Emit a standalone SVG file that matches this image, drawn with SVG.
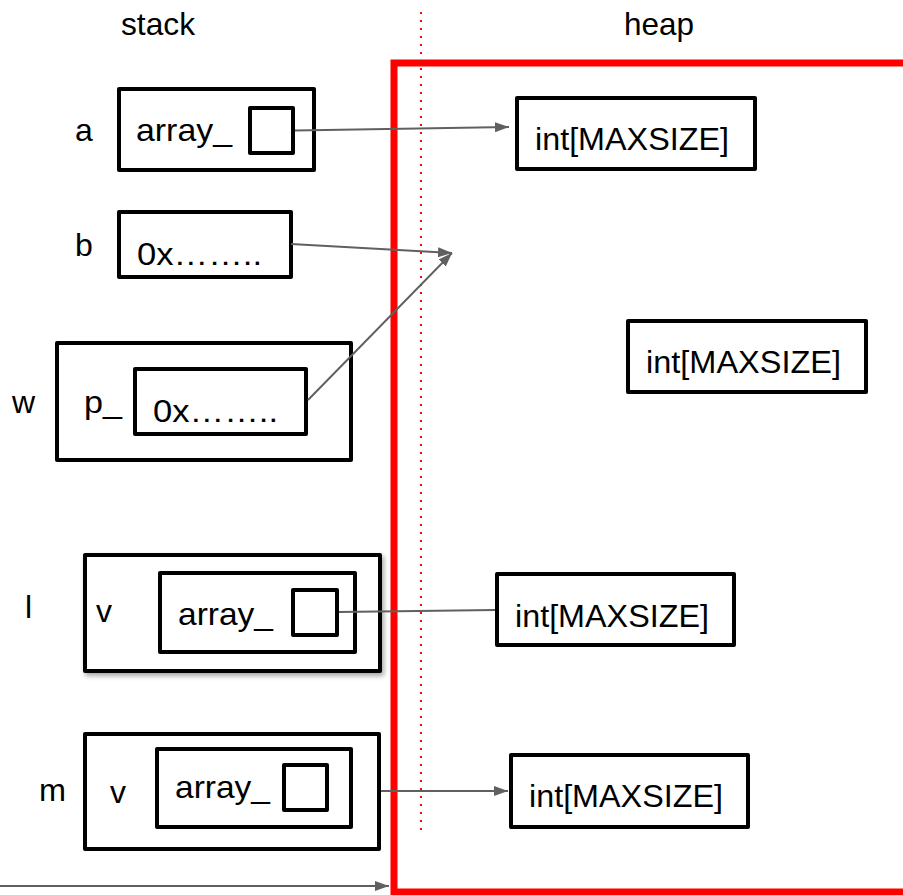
<svg xmlns="http://www.w3.org/2000/svg" width="903" height="895" viewBox="0 0 903 895">
<style>
  .box { fill: #ffffff; stroke: #000000; stroke-width: 4; stroke-linejoin: round; }
  .sq { fill: none; stroke: #000000; stroke-width: 4; stroke-linejoin: round; }
  .t { font-family: "Liberation Sans", Arial, sans-serif; font-size: 32px; fill: #000000; }
  .conn { fill: none; stroke: #606060; stroke-width: 2; }
</style>
<defs>
  <marker id="arr" markerUnits="userSpaceOnUse" markerWidth="14" markerHeight="10" refX="14" refY="5" orient="auto">
    <path d="M0,0 L14,5 L0,10 Z" fill="#606060"/>
  </marker>
  <filter id="shadow" x="-10%" y="-10%" width="125%" height="130%">
    <feDropShadow dx="2" dy="3" stdDeviation="2.5" flood-color="#000000" flood-opacity="0.35"/>
  </filter>
</defs>
<rect width="903" height="895" fill="#ffffff"/>

<text class="t" x="121" y="35" textLength="74" lengthAdjust="spacingAndGlyphs">stack</text>
<text class="t" x="624" y="35" textLength="70" lengthAdjust="spacingAndGlyphs">heap</text>

<g id="heap-region">
  <rect x="394" y="63" width="520" height="829" fill="none" stroke="#ff0000" stroke-width="7"/>
</g>
<line x1="421" y1="12" x2="421" y2="830" stroke="#ff0000" stroke-width="2" stroke-dasharray="2 6"/>

<g id="a">
  <text class="t" x="75" y="141">a</text>
  <rect class="box" x="119" y="89" width="195" height="81"/>
  <text class="t" x="136" y="141" textLength="96" lengthAdjust="spacingAndGlyphs">array_</text>
  <rect class="sq" x="250" y="108" width="43" height="45"/>
</g>

<g id="b">
  <text class="t" x="75" y="256">b</text>
  <rect class="box" x="119" y="212" width="172" height="65"/>
  <text class="t" x="137" y="265" textLength="125" lengthAdjust="spacingAndGlyphs">0x……..</text>
</g>

<g id="w">
  <text class="t" x="12" y="413">w</text>
  <rect class="box" x="57" y="343" width="294" height="117"/>
  <text class="t" x="84" y="413" textLength="38" lengthAdjust="spacingAndGlyphs">p_</text>
  <rect class="box" x="135" y="369" width="171" height="65"/>
  <text class="t" x="153" y="422" textLength="125" lengthAdjust="spacingAndGlyphs">0x……..</text>
</g>

<g id="l">
  <text class="t" x="25" y="618">l</text>
  <rect class="box" x="85" y="555" width="295" height="116" filter="url(#shadow)"/>
  <text class="t" x="96" y="622">v</text>
  <rect class="box" x="160" y="573" width="195" height="79"/>
  <text class="t" x="178" y="625" textLength="95" lengthAdjust="spacingAndGlyphs">array_</text>
  <rect class="sq" x="293" y="590" width="44" height="45"/>
</g>

<g id="m">
  <text class="t" x="39" y="801" textLength="27" lengthAdjust="spacingAndGlyphs">m</text>
  <rect class="box" x="85" y="734" width="294" height="115"/>
  <text class="t" x="110" y="803">v</text>
  <rect class="box" x="157" y="749" width="194" height="78"/>
  <text class="t" x="175" y="798" textLength="95" lengthAdjust="spacingAndGlyphs">array_</text>
  <rect class="sq" x="284" y="765" width="43" height="45"/>
</g>

<g id="heap1">
  <rect class="box" x="517" y="98" width="238" height="71"/>
  <text class="t" x="535" y="150" textLength="194" lengthAdjust="spacingAndGlyphs">int[MAXSIZE]</text>
</g>
<g id="heap2">
  <rect class="box" x="628" y="321" width="238" height="71"/>
  <text class="t" x="646" y="373" textLength="195" lengthAdjust="spacingAndGlyphs">int[MAXSIZE]</text>
</g>
<g id="heap3">
  <rect class="box" x="497" y="574" width="237" height="71"/>
  <text class="t" x="515" y="627" textLength="194" lengthAdjust="spacingAndGlyphs">int[MAXSIZE]</text>
</g>
<g id="heap4">
  <rect class="box" x="511" y="755" width="237" height="72"/>
  <text class="t" x="529" y="807" textLength="194" lengthAdjust="spacingAndGlyphs">int[MAXSIZE]</text>
</g>

<g id="connectors">
  <line class="conn" x1="295" y1="130.5" x2="509" y2="127" marker-end="url(#arr)"/>
  <line class="conn" x1="291" y1="244" x2="452" y2="253" marker-end="url(#arr)"/>
  <line class="conn" x1="308" y1="400" x2="452" y2="253" marker-end="url(#arr)"/>
  <line class="conn" x1="339" y1="612" x2="495" y2="610"/>
  <line class="conn" x1="381" y1="791" x2="508" y2="791" marker-end="url(#arr)"/>
  <line class="conn" x1="0" y1="886" x2="389" y2="886" marker-end="url(#arr)"/>
</g>
</svg>
